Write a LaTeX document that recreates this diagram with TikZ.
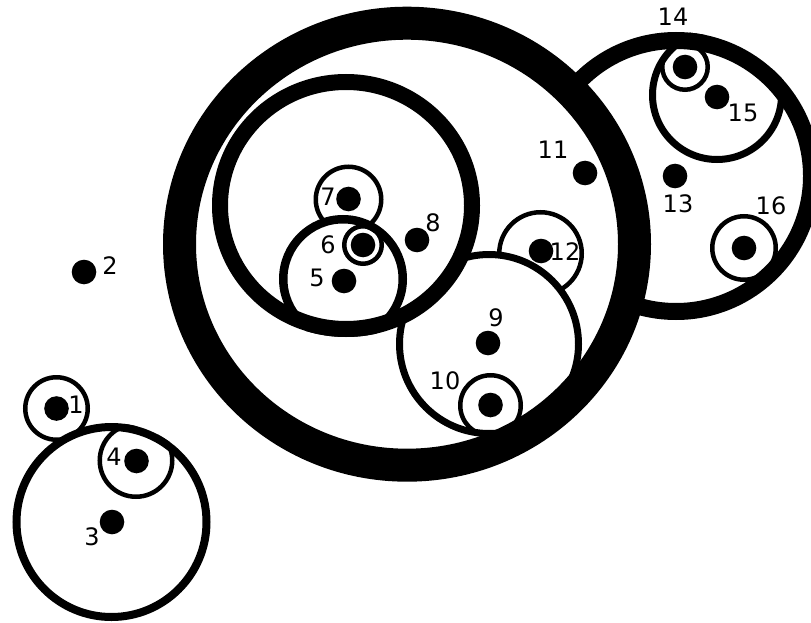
\documentclass[tikz,border=0pt]{standalone}
\usepackage{fontspec}
\setmainfont{DejaVu Sans}
\begin{document}
\begin{tikzpicture}[x=1pt,y=-1pt,
  dot/.style={circle,fill=black,inner sep=0pt,minimum size=24.6pt},
  lab/.style={inner sep=0pt,font=\fontsize{24}{28}\selectfont},
  ring/.style={draw=black,fill=white},
  bg/.style={fill=white},
  thin ring/.style={ring,line width=4.5pt}]
\useasboundingbox (0,0) rectangle (811,623);
\clip (0,0) rectangle (811,623);

% ---- top level: circle of 1
\draw[thin ring] (56.5,408.5) circle[radius=31.25pt];

% ---- F: circle holding 3 and 4
\fill[bg] (111.5,522) circle[radius=95pt];
\begin{scope}
  \clip (111.5,522) circle[radius=99pt];
  \draw[thin ring] (136,460.5) circle[radius=36.25pt];
\end{scope}
\draw[line width=8pt] (111.5,522) circle[radius=95pt];

% ---- E: right circle holding 13..16
\fill[bg] (676,176) circle[radius=135.5pt];
\begin{scope}
  \clip (676,176) circle[radius=144pt];
  % D
  \fill[bg] (717,95) circle[radius=64.5pt];
  \begin{scope}
    \clip (717,95) circle[radius=68pt];
    \draw[thin ring] (685,67) circle[radius=22.75pt];
  \end{scope}
  \draw[line width=7pt] (717,95) circle[radius=64.5pt];
  \draw[thin ring] (744,248) circle[radius=31.75pt];
\end{scope}
\draw[line width=17pt] (676,176) circle[radius=135.5pt];

% ---- G: big circle holding 5..12
\fill[bg] (407,244.2) ellipse[x radius=227.5pt,y radius=221pt];
\begin{scope}
  \clip (407,244.2) ellipse[x radius=244pt,y radius=237.5pt];
  % circle of 12
  \draw[thin ring] (540.5,253.5) circle[radius=41.25pt];
  % C: circle holding 9 and 10
  \fill[bg] (489,344) circle[radius=89.5pt];
  \begin{scope}
    \clip (489,344) circle[radius=93pt];
    \draw[thin ring] (490.5,405.5) circle[radius=30.25pt];
  \end{scope}
  \draw[line width=7pt] (489,344) circle[radius=89.5pt];
  % A: circle holding 5..8
  \fill[bg] (346,205.5) ellipse[x radius=126pt,y radius=123.5pt];
  \begin{scope}
    \clip (346,205.5) ellipse[x radius=134pt,y radius=131.5pt];
    \draw[thin ring] (348.5,199.5) circle[radius=32.75pt];
    % B: circle holding 5 and 6
    \fill[bg] (343,279) circle[radius=59.75pt];
    \begin{scope}
      \clip (343,279) circle[radius=64pt];
      \draw[thin ring] (363,245) circle[radius=18.75pt];
    \end{scope}
    \draw[line width=8.5pt] (343,279) circle[radius=59.75pt];
  \end{scope}
  \draw[line width=16pt] (346,205.5) ellipse[x radius=126pt,y radius=123.5pt];
\end{scope}
\draw[line width=33pt] (407,244.2) ellipse[x radius=227.5pt,y radius=221pt];

% ---- vertices
\node[dot] (v1) at (56.5,408.5) {};
\node[dot] (v2) at (84,272) {};
\node[dot] (v3) at (112,522) {};
\node[dot] (v4) at (136.5,461) {};
\node[dot] (v5) at (344,281) {};
\node[dot] (v6) at (363,245) {};
\node[dot] (v7) at (348.5,199) {};
\node[dot] (v8) at (417,240) {};
\node[dot] (v9) at (488,343) {};
\node[dot] (v10) at (490.5,405) {};
\node[dot] (v11) at (585,173) {};
\node[dot] (v12) at (541,251) {};
\node[dot] (v13) at (675,176) {};
\node[dot] (v14) at (685,67) {};
\node[dot] (v15) at (717,97) {};
\node[dot] (v16) at (744,248) {};

% ---- labels
\node[lab] (l1) at (76,405) {1};
\node[lab] (l2) at (110,266) {2};
\node[lab] (l3) at (92,537) {3};
\node[lab] (l4) at (114,457) {4};
\node[lab] (l5) at (317,278) {5};
\node[lab] (l6) at (328,245) {6};
\node[lab] (l7) at (328,197) {7};
\node[lab] (l8) at (433,223) {8};
\node[lab] (l9) at (496,318) {9};
\node[lab] (l10) at (445,381) {10};
\node[lab] (l11) at (553,150) {11};
\node[lab] (l12) at (565,252) {12};
\node[lab] (l13) at (678,204) {13};
\node[lab] (l14) at (673,17) {14};
\node[lab] (l15) at (743,113) {15};
\node[lab] (l16) at (771,206) {16};
\end{tikzpicture}
\end{document}
